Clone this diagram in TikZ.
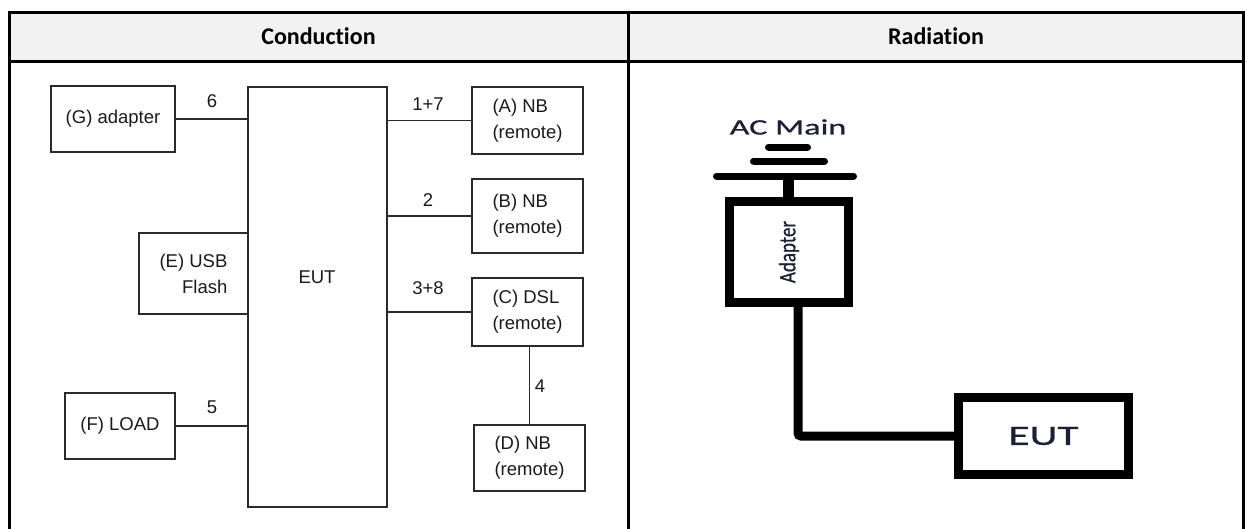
\documentclass[tikz,border=0pt]{standalone}
\usepackage{fontspec}
\usepackage{graphicx}
\setmainfont{Liberation Sans}
\newfontfamily\hdrfont[Ligatures=NoCommon]{Carlito}
\newfontfamily\condfont{Liberation Sans}
\newfontfamily\radfont[FakeStretch=1.55,FakeBold=0.8]{Carlito}
\newfontfamily\adfont[FakeBold=0.6]{Carlito}
\definecolor{hdrfill}{HTML}{F2F2F2}
\definecolor{linegray}{HTML}{2A2A2A}
\definecolor{textblack}{HTML}{1A1A1A}
\definecolor{radtext}{HTML}{1A2035}
\begin{document}
\begin{tikzpicture}[x=1pt,y=-1pt,
  tbl/.style={line width=3pt,draw=black},
  box/.style={draw=linegray, line width=1.3pt, inner sep=0pt, text=textblack,
    font=\condfont\fontsize{18.5}{26}\selectfont},
  wire/.style={draw=linegray, line width=1.3pt},
  num/.style={font=\condfont\fontsize{18.5}{20}\selectfont, text=textblack, inner sep=0pt},
  hdr/.style={font=\hdrfont\bfseries\fontsize{24}{26}\selectfont, text=black},
  rbox/.style={draw=black, line width=9pt, inner sep=0pt, fill=white},
  rwire/.style={draw=black, line width=9pt},
  bar/.style={draw=black, line width=7pt, line cap=round},
  rtext/.style={text=radtext}
]
\useasboundingbox (0,0) rectangle (1247,528);
% table
\fill[hdrfill] (9,12) rectangle (1243.5,61);
\node[hdr] (hc) at (318.5,36) {Conduction};
\node[hdr] (hr) at (936,36) {Radiation};
\draw[tbl] (9,545) -- (9,12) -- (1243.5,12) -- (1243.5,545);
\draw[tbl] (9,61) -- (1243.5,61);
\draw[tbl] (628,12) -- (628,545);

% conduction
\node[box, minimum width=124pt, minimum height=66pt] (G) at (113,119) {(G) adapter};
\node[box, minimum width=139pt, minimum height=420pt] (EUT) at (317.5,297) {};
\node[num] (eutt) at (317,277) {EUT};
\node[box, minimum width=109pt, minimum height=81pt, align=right] (E) at (193.5,273.5) {(E) USB\\Flash};
\node[box, minimum width=110pt, minimum height=66pt] (F) at (120,426) {(F) LOAD};
\node[box, minimum width=111pt, minimum height=67pt, align=left] (A) at (527.5,120.5) {(A) NB\\(remote)};
\node[box, minimum width=111pt, minimum height=74pt, align=left] (B) at (527.5,216) {(B) NB\\(remote)};
\node[box, minimum width=111pt, minimum height=68pt, align=left] (C) at (527.5,312) {(C) DSL\\(remote)};
\node[box, minimum width=111pt, minimum height=66pt, align=left] (D) at (529.5,458) {(D) NB\\(remote)};

\draw[wire] (G.east) -- (G.east -| EUT.west);
\draw[wire] (F.east) -- (F.east -| EUT.west);
\draw[wire] (A.west) -- (A.west -| EUT.east);
\draw[wire] (B.west) -- (B.west -| EUT.east);
\draw[wire] (C.west) -- (C.west -| EUT.east);
\draw[wire] (C.south -| D.north) -- (D.north);

\node[num] (l6) at (212,101) {6};
\node[num] (l17) at (428,104) {1+7};
\node[num] (l2) at (428,200) {2};
\node[num] (l38) at (428,288) {3+8};
\node[num] (l5) at (212,407) {5};
\node[num] (l4) at (540,386) {4};

% radiation
\node[font=\radfont\fontsize{22}{24}\selectfont, rtext, inner sep=0pt] (acm) at (788,127) {AC Main};
\draw[bar] (768.5,147) -- (807.5,147);
\draw[bar] (753.5,161) -- (824.5,161);
\draw[bar] (716.5,176) -- (853.5,176);
\coordinate (gnd) at (788,176);
\node[rbox, minimum width=119pt, minimum height=101pt] (adp) at (789,252)
  {\rotatebox{90}{\scalebox{1}[1.25]{\adfont\fontsize{19}{20}\selectfont\color{radtext}Adapter}}};
\draw[line width=11pt, draw=black] (gnd) -- (gnd |- adp.north);
\node[rbox, minimum width=170pt, minimum height=77pt, rtext,
  font=\radfont\fontsize{28}{30}\selectfont] (eut2) at (1043.5,436) {EUT};
\draw[rwire, rounded corners=3pt] ([xshift=9pt]adp.south) |- (eut2.west);
\end{tikzpicture}
\end{document}
